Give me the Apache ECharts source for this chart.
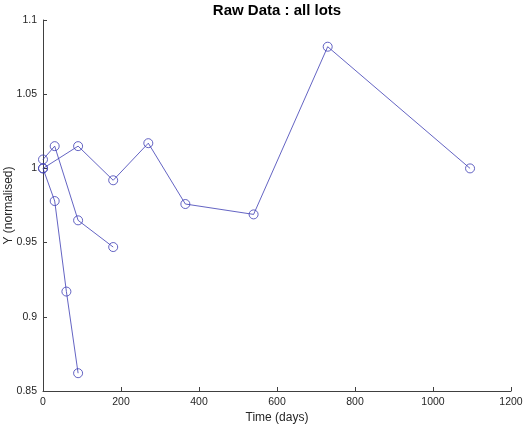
<!DOCTYPE html>
<html>
<head>
<meta charset="utf-8">
<script src="https://cdn.jsdelivr.net/npm/echarts@6/dist/echarts.min.js"></script>
<style>
  html, body { margin: 0; padding: 0; background: #fff; }
  #chart { width: 524px; height: 428px; }
</style>
</head>
<body>
<div id="chart"></div>
<script>
// Stability lots: time points (days) and normalised response
const lotADays = [0, 90, 180, 270, 365, 540, 730, 1095];
const lotAValues = [1.000, 1.015, 0.992, 1.017, 0.976, 0.969, 1.082, 1.000];

const lotBDays = [0, 30, 90, 180];
const lotBValues = [1.006, 1.015, 0.965, 0.947];

const lotCDays = [0, 30, 60, 90];
const lotCValues = [1.000, 0.978, 0.917, 0.862];

const xTicks = [0, 200, 400, 600, 800, 1000, 1200];
const yTicks = [0.85, 0.9, 0.95, 1, 1.05, 1.1];

const lineColor = '#3c3cb4';
const axisColor = '#404040';
const fontFamily = '"Liberation Sans", Arial, Helvetica, sans-serif';

function pairs(xs, ys) { return xs.map((x, i) => [x, ys[i]]); }

function lotSeries(name, xs, ys) {
  return {
    name: name,
    type: 'line',
    data: pairs(xs, ys),
    symbol: 'circle',
    symbolSize: 9,
    showAllSymbol: true,
    lineStyle: { color: lineColor, width: 0.8 },
    itemStyle: { color: 'rgba(0,0,0,0)', borderColor: lineColor, borderWidth: 0.8 },
    emphasis: { disabled: true },
    animation: false
  };
}

const chart = echarts.init(document.getElementById('chart'), null, { renderer: 'canvas' });
chart.setOption({
  backgroundColor: '#ffffff',
  animation: false,
  title: {
    text: 'Raw Data : all lots',
    left: 277,
    textAlign: 'center',
    top: 3,
    padding: 0,
    textStyle: { fontFamily: fontFamily, fontWeight: 'bold', fontSize: 15, color: '#000' }
  },
  grid: { left: 43, right: 13, top: 20, bottom: 37, containLabel: false, outerBoundsMode: 'none' },
  xAxis: {
    type: 'value',
    min: xTicks[0],
    max: xTicks[xTicks.length - 1],
    interval: 200,
    name: 'Time (days)',
    nameLocation: 'middle',
    nameGap: 21,
    nameMoveOverlap: false,
    nameTextStyle: { fontFamily: fontFamily, fontSize: 12, color: '#262626', verticalAlign: 'top' },
    axisLine: { show: true, lineStyle: { color: axisColor, width: 1 } },
    axisTick: { show: true, inside: true, length: 4, lineStyle: { color: axisColor } },
    axisLabel: { fontFamily: fontFamily, fontSize: 10.5, color: '#262626', margin: 6,
      formatter: v => String(v) },
    splitLine: { show: false }
  },
  yAxis: {
    type: 'value',
    min: yTicks[0],
    max: yTicks[yTicks.length - 1],
    interval: 0.05,
    name: 'Y (normalised)',
    nameLocation: 'middle',
    nameGap: 28,
    nameMoveOverlap: false,
    nameRotate: 90,
    nameTextStyle: { fontFamily: fontFamily, fontSize: 12, color: '#262626' },
    axisLine: { show: true, lineStyle: { color: axisColor, width: 1 } },
    axisTick: { show: true, inside: true, length: 4, lineStyle: { color: axisColor } },
    axisLabel: { fontFamily: fontFamily, fontSize: 10.5, color: '#262626', margin: 6,
      formatter: v => String(parseFloat(v.toFixed(2))) },
    splitLine: { show: false }
  },
  series: [
    lotSeries('Lot A', lotADays, lotAValues),
    lotSeries('Lot B', lotBDays, lotBValues),
    lotSeries('Lot C', lotCDays, lotCValues)
  ]
});
</script>
</body>
</html>
